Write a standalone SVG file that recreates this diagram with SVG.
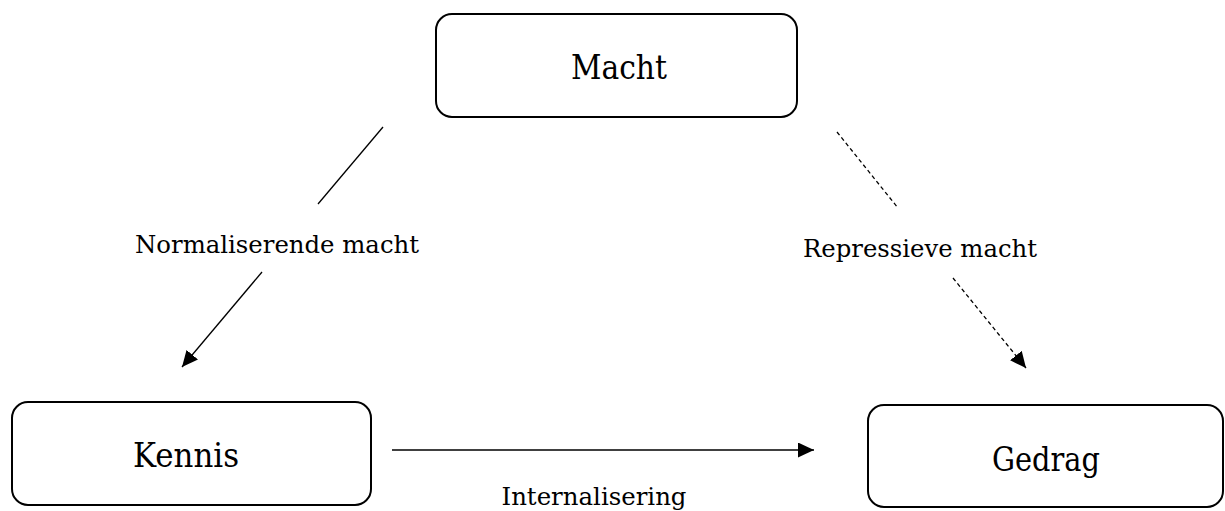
<svg xmlns="http://www.w3.org/2000/svg" width="1225" height="511" viewBox="0 0 1225 511">
<style>
.box{fill:#fff;stroke:#000;stroke-width:2}
.nl{font-family:"DejaVu Serif","Liberation Serif",serif;font-size:33px;fill:#000;text-anchor:middle}
.el{font-family:"DejaVu Serif","Liberation Serif",serif;font-size:24px;fill:#000;text-anchor:middle}
.ln{stroke:#000;stroke-width:1.3;fill:none}
.dash{stroke-dasharray:4 3}
</style>
<defs>
<marker id="ah" markerUnits="userSpaceOnUse" markerWidth="16" markerHeight="15" viewBox="0 0 10 10" refX="10" refY="5" orient="auto" preserveAspectRatio="none">
<path d="M0,0 L10,5 L0,10 z" fill="#000"/>
</marker>
</defs>
<rect width="1225" height="511" fill="#fff"/>
<g id="connectors">
<line class="ln" x1="383" y1="127" x2="318" y2="204"/>
<line class="ln" x1="262" y1="272" x2="182" y2="367" marker-end="url(#ah)"/>
<line class="ln dash" x1="837" y1="132" x2="898" y2="208"/>
<line class="ln dash" x1="953" y1="278" x2="1026" y2="368" marker-end="url(#ah)"/>
<line class="ln" x1="392" y1="450" x2="814" y2="450" marker-end="url(#ah)"/>
<text class="el" x="277" y="253" textLength="284" lengthAdjust="spacingAndGlyphs">Normaliserende macht</text>
<text class="el" x="920" y="257" textLength="234" lengthAdjust="spacingAndGlyphs">Repressieve macht</text>
<text class="el" x="594" y="505" textLength="185" lengthAdjust="spacingAndGlyphs">Internalisering</text>
</g>
<g id="macht">
<rect class="box" x="436" y="14" width="361" height="103" rx="16"/>
<text class="nl" x="619" y="79" textLength="96" lengthAdjust="spacingAndGlyphs">Macht</text>
</g>
<g id="kennis">
<rect class="box" x="12" y="402" width="359" height="103" rx="16"/>
<text class="nl" x="186" y="467" textLength="106" lengthAdjust="spacingAndGlyphs">Kennis</text>
</g>
<g id="gedrag">
<rect class="box" x="868" y="405" width="355" height="102" rx="16"/>
<text class="nl" x="1046" y="471" textLength="108" lengthAdjust="spacingAndGlyphs">Gedrag</text>
</g>
</svg>
